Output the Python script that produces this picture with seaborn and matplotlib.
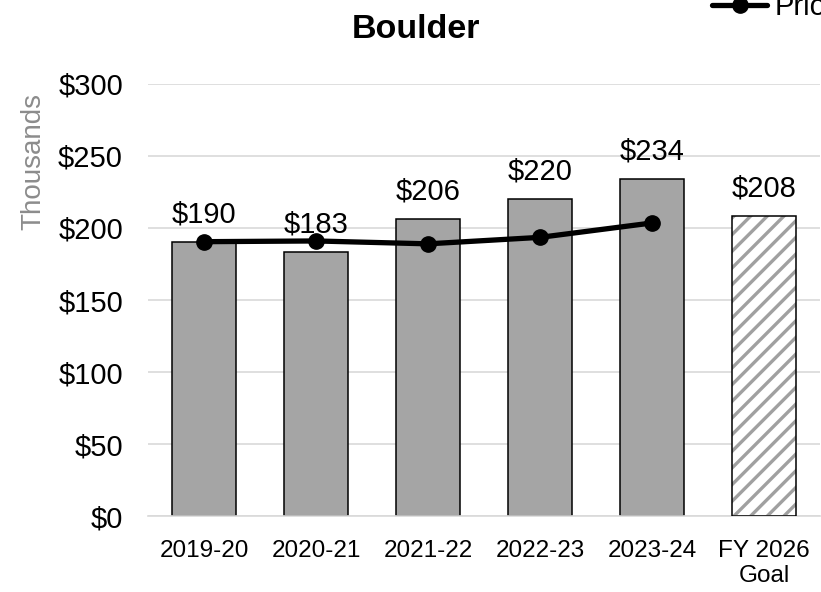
import matplotlib
matplotlib.use("Agg")
import matplotlib.pyplot as plt
import numpy as np
import pandas as pd
import seaborn as sns

# Données (en milliers de $)
categories = ["2019-20", "2020-21", "2021-22", "2022-23", "2023-24", "FY 2026\nGoal"]
bar_values = [190, 183, 206, 220, 234, 208]
line_years = ["2019-20", "2020-21", "2021-22", "2022-23", "2023-24"]
line_values = [190.5, 191, 189, 193.5, 203.5]
legend_label = "Prior"

sns.set_theme(style="white")
plt.rcParams["font.family"] = ["Liberation Sans", "DejaVu Sans"]
plt.rcParams["hatch.linewidth"] = 2.4
plt.rcParams["text.color"] = "black"

df = pd.DataFrame({"cat": categories, "val": bar_values})

fig = plt.figure(figsize=(8.21, 5.92), dpi=100)
ax = fig.add_axes([148 / 821, 76 / 592, 672 / 821, 432 / 592])

sns.barplot(data=df, x="cat", y="val", color="#a5a5a5", saturation=1,
            width=0.57, edgecolor="black", linewidth=1.1, ax=ax, zorder=2)

# dernière barre (objectif) hachurée
goal = ax.patches[-1]
goal.set_facecolor("white")
goal.set_edgecolor("#a0a0a0")
goal.set_hatch("//")
goal.set_linewidth(0)
ax.bar(len(categories) - 1, bar_values[-1], width=0.57, fill=False,
       edgecolor="black", linewidth=1.1, zorder=3)

for i, v in enumerate(bar_values):
    ax.annotate(f"${v}", (i, v), xytext=(0, 10), textcoords="offset points",
                ha="center", va="bottom", fontsize=21, color="black", zorder=5)

x_line = [categories.index(c) for c in line_years]
ax.plot(x_line, line_values, color="black", lw=3.8, marker="o", ms=11,
        zorder=4, label=legend_label)

ax.set_ylim(0, 300)
ax.set_xlim(-0.5, 5.5)
ax.set_yticks(np.arange(0, 301, 50))
ax.set_yticklabels([f"${t}" for t in range(0, 301, 50)])
ax.yaxis.grid(True, color="#d9d9d9", lw=1.2, zorder=0)
ax.set_axisbelow(True)
for s in ["left", "right", "top"]:
    ax.spines[s].set_visible(False)
ax.spines["bottom"].set_color("#d9d9d9")
ax.spines["bottom"].set_linewidth(1.2)
ax.tick_params(axis="y", length=0, pad=18, labelsize=21, labelcolor="black")
ax.tick_params(axis="x", length=0, pad=17, labelsize=17.5, labelcolor="black")
ax.set_xlabel("")
ax.set_ylabel("")

fig.text(416 / 821, 1 - 30 / 592, "Boulder", ha="center", va="center",
         fontsize=24.5, fontweight="bold", color="black")
fig.text(33 / 821, 1 - 161 / 592, "Thousands", rotation=90, ha="center",
         va="center", fontsize=20, color="#8c8c8c")

fig.legend(loc="center left", bbox_to_anchor=(712 / 821, 1 - 7 / 592),
           frameon=False, fontsize=21, handlelength=1.9, handletextpad=0.25,
           borderpad=0, borderaxespad=0)

fig.savefig("out.png", dpi=100)
